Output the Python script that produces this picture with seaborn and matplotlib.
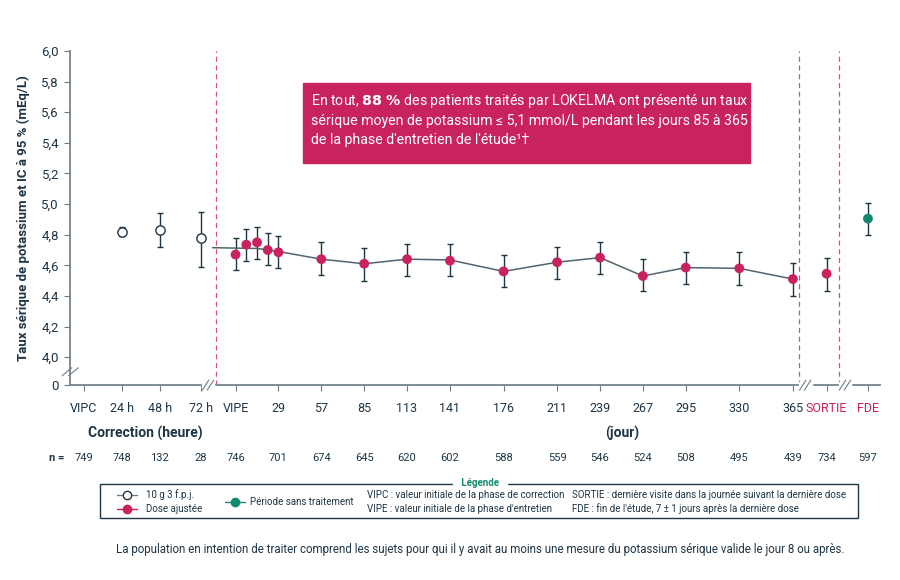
import matplotlib
matplotlib.use("Agg")
import matplotlib.pyplot as plt
import seaborn as sns
import pandas as pd
import numpy as np

# ---- data ----
tick_labels = ["VIPC", "24 h", "48 h", "72 h", "VIPE", "29", "57", "85", "113", "141", "176",
               "211", "239", "267", "295", "330", "365", "SORTIE", "FDE"]
tick_pos = [-98, -73, -48.5, -21.5, 1, 29, 57, 85, 113, 141, 176, 211, 239, 267, 295, 330, 365, 387, 414]
n_values = ["749", "748", "132", "28", "746", "701", "674", "645", "620", "602", "588",
            "559", "546", "524", "508", "495", "439", "734", "597"]
n_pos = [-98, -73, -48.5, -21.5, 1, 29, 57, 85, 113, 141, 176, 211, 239, 267, 295, 330, 365, 387, 414]

corr_x = [-73, -48.5, -21.5]
corr_mean = [4.82, 4.83, 4.78]
corr_lo = [4.79, 4.72, 4.59]
corr_hi = [4.85, 4.94, 4.95]

maint_x = [1, 8, 15, 22, 29, 57, 85, 113, 141, 176, 211, 239, 267, 295, 330, 365, 387]
maint_mean = [4.67, 4.735, 4.75, 4.70, 4.685, 4.64, 4.61, 4.64, 4.63, 4.56, 4.62, 4.65, 4.53, 4.585, 4.58, 4.51, 4.545]
maint_lo = [4.57, 4.63, 4.64, 4.60, 4.58, 4.535, 4.50, 4.53, 4.53, 4.455, 4.51, 4.54, 4.43, 4.48, 4.47, 4.40, 4.435]
maint_hi = [4.78, 4.84, 4.85, 4.81, 4.79, 4.75, 4.71, 4.74, 4.74, 4.665, 4.72, 4.755, 4.64, 4.69, 4.69, 4.615, 4.65]

line_x = [-14, 15, 29, 57, 85, 113, 141, 176, 211, 239, 267, 295, 330, 365]
line_y = [4.715, 4.71, 4.69, 4.64, 4.61, 4.64, 4.635, 4.56, 4.62, 4.65, 4.53, 4.585, 4.58, 4.51]

fde_x = [414]
fde_mean = [4.905]
fde_lo = [4.80]
fde_hi = [5.01]

y_ticks = [4.0, 4.2, 4.4, 4.6, 4.8, 5.0, 5.2, 5.4, 5.6, 5.8, 6.0]

# ---- style ----
CRIMSON = "#C8235F"
TEAL = "#14896F"
DARK = "#1E3545"
GRAY = "#6F7E86"

sns.set_theme(style="white")
plt.rcParams['font.family'] = ['Roboto', 'DejaVu Sans']

fig = plt.figure(figsize=(9, 5.8), dpi=100)
ax = fig.add_axes([0.078, 0.336, 0.9, 0.576])
Y0 = 3.817
ax.set_ylim(Y0, 6.0)
ax.set_xlim(-107, 422)

def err(m, lo, hi):
    m = np.array(m)
    return [m - np.array(lo), np.array(hi) - m]

ax.errorbar(corr_x, corr_mean, yerr=err(corr_mean, corr_lo, corr_hi),
            fmt="none", ecolor=DARK, elinewidth=1, capsize=2, zorder=2)
ax.errorbar(maint_x, maint_mean, yerr=err(maint_mean, maint_lo, maint_hi),
            fmt="none", ecolor=DARK, elinewidth=1, capsize=2, zorder=2)
ax.errorbar(fde_x, fde_mean, yerr=err(fde_mean, fde_lo, fde_hi),
            fmt="none", ecolor=DARK, elinewidth=1, capsize=2, zorder=2)

sns.lineplot(x=line_x, y=line_y, ax=ax, color="#4F6470", lw=1.1, zorder=3, sort=False)
ax.scatter(corr_x, corr_mean, s=45, facecolor="white", edgecolor=DARK, lw=1, zorder=4)
sns.scatterplot(x=maint_x, y=maint_mean, ax=ax, s=50, color=CRIMSON, edgecolor="none", zorder=4)
sns.scatterplot(x=fde_x, y=fde_mean, ax=ax, s=50, color=TEAL, edgecolor="none", zorder=4)

for xv in [-12, 369, 395]:
    ax.axvline(xv, color=CRIMSON, ls=(0, (4, 3)), lw=0.9, alpha=0.8, zorder=1)

for s in ["top", "right"]:
    ax.spines[s].set_visible(False)
ax.spines["left"].set_color(GRAY)
ax.spines["bottom"].set_color(GRAY)
ax.set_yticks([Y0] + y_ticks)
ax.set_yticklabels(["0"] + [f"{v:.1f}".replace(".", ",") for v in y_ticks], fontsize=9.5, color=DARK)
ax.set_xticks(tick_pos)
ax.set_xticklabels(tick_labels, fontsize=9, color=DARK)
for lbl in ax.get_xticklabels()[-2:]:
    lbl.set_color(CRIMSON)
ax.tick_params(axis="both", length=4, color=GRAY, width=0.8, pad=8, left=True, bottom=True)
ax.tick_params(axis="y", pad=4)
ax.set_ylabel("Taux sérique de potassium et IC à 95 % (mEq/L)", fontsize=9.5, fontweight="bold", color=DARK, labelpad=8)

# axis breaks
d = 0.006
for off in (-0.004, 0.004):
    ax.plot([off - d, off + d], [0.04 - 0.012, 0.04 + 0.012], transform=ax.transAxes,
            color=GRAY, lw=0.8, clip_on=False)
for xv in [-17, 373, 399]:
    xa = (xv + 107) / 529
    ax.add_patch(plt.Rectangle((xa - 0.008, -0.01), 0.016, 0.02, transform=ax.transAxes,
                               color="white", clip_on=False, zorder=5))
    for off in (-0.003, 0.003):
        ax.plot([xa + off - 0.004, xa + off + 0.004], [-0.015, 0.015], transform=ax.transAxes,
                color=GRAY, lw=0.8, clip_on=False, zorder=6)

# annotation box
fig.patches.append(plt.Rectangle((303 / 900, 1 - 163 / 580), 447 / 900, 80 / 580, transform=fig.transFigure,
                                 color=CRIMSON, zorder=10))
fig.text(311 / 900, 1 - 92 / 580,
         "En tout, $\\bf{88\\ \\%}$ des patients traités par LOKELMA ont présenté un taux\n"
         "sérique moyen de potassium ≤ 5,1 mmol/L pendant les jours 85 à 365\n"
         "de la phase d'entretien de l'étude¹†",
         color="white", fontsize=10.2, va="top", ha="left", linespacing=1.4, zorder=11)

fig.text(145 / 900, 1 - 433 / 580, "Correction (heure)", fontsize=10, fontweight="bold", color=DARK, ha="center", va="center")
fig.text(622 / 900, 1 - 433 / 580, "(jour)", fontsize=10, fontweight="bold", color=DARK, ha="center", va="center")

fig.text(57 / 900, 1 - 458 / 580, "n =", fontsize=8, fontweight="bold", color=DARK, ha="center", va="center")
for v, p in zip(n_values, n_pos):
    xf = fig.transFigure.inverted().transform(ax.transData.transform((p, Y0)))[0]
    fig.text(xf, 1 - 458 / 580, v, fontsize=8, color=DARK, ha="center", va="center")

# legend box
fig.patches.append(plt.Rectangle((100 / 900, 1 - 518 / 580), 758 / 900, 34 / 580, transform=fig.transFigure,
                                 fill=False, edgecolor=DARK, lw=1))
fig.text(480 / 900, 1 - 483 / 580, " Légende ", fontsize=7, color=TEAL, ha="center", va="center",
         backgroundcolor="white", fontweight="bold")
def legmark(x, y, face, edge, lw_col):
    fig.lines.append(plt.Line2D([x - 10 / 900, x + 10 / 900], [y, y], transform=fig.transFigure, color=lw_col, lw=1))
    fig.lines.append(plt.Line2D([x], [y], transform=fig.transFigure, marker="o", ms=6,
                                markerfacecolor=face, markeredgecolor=edge, lw=0))
y1, y2 = 1 - 495 / 580, 1 - 509 / 580
legmark(127 / 900, y1, "white", DARK, GRAY)
legmark(127 / 900, y2, CRIMSON, CRIMSON, CRIMSON)
legmark(235 / 900, (y1 + y2) / 2, TEAL, TEAL, TEAL)
fs = 7
fig.text(146 / 900, y1, "10 g 3 f.p.j.", fontsize=fs, color=DARK, va="center")
fig.text(146 / 900, y2, "Dose ajustée", fontsize=fs, color=DARK, va="center")
fig.text(250 / 900, (y1 + y2) / 2, "Période sans traitement", fontsize=fs, color=DARK, va="center")
fig.text(367 / 900, y1, "VIPC : valeur initiale de la phase de correction", fontsize=fs, color=DARK, va="center")
fig.text(367 / 900, y2, "VIPE : valeur initiale de la phase d'entretien", fontsize=fs, color=DARK, va="center")
fig.text(572 / 900, y1, "SORTIE : dernière visite dans la journée suivant la dernière dose", fontsize=fs, color=DARK, va="center")
fig.text(572 / 900, y2, "FDE : fin de l'étude, 7 ± 1 jours après la dernière dose", fontsize=fs, color=DARK, va="center")

fig.text(480 / 900, 1 - 549 / 580,
         "La population en intention de traiter comprend les sujets pour qui il y avait au moins une mesure du potassium sérique valide le jour 8 ou après.",
         fontsize=8.3, color=DARK, ha="center", va="center")

fig.savefig("out.png", dpi=100, facecolor="white")
